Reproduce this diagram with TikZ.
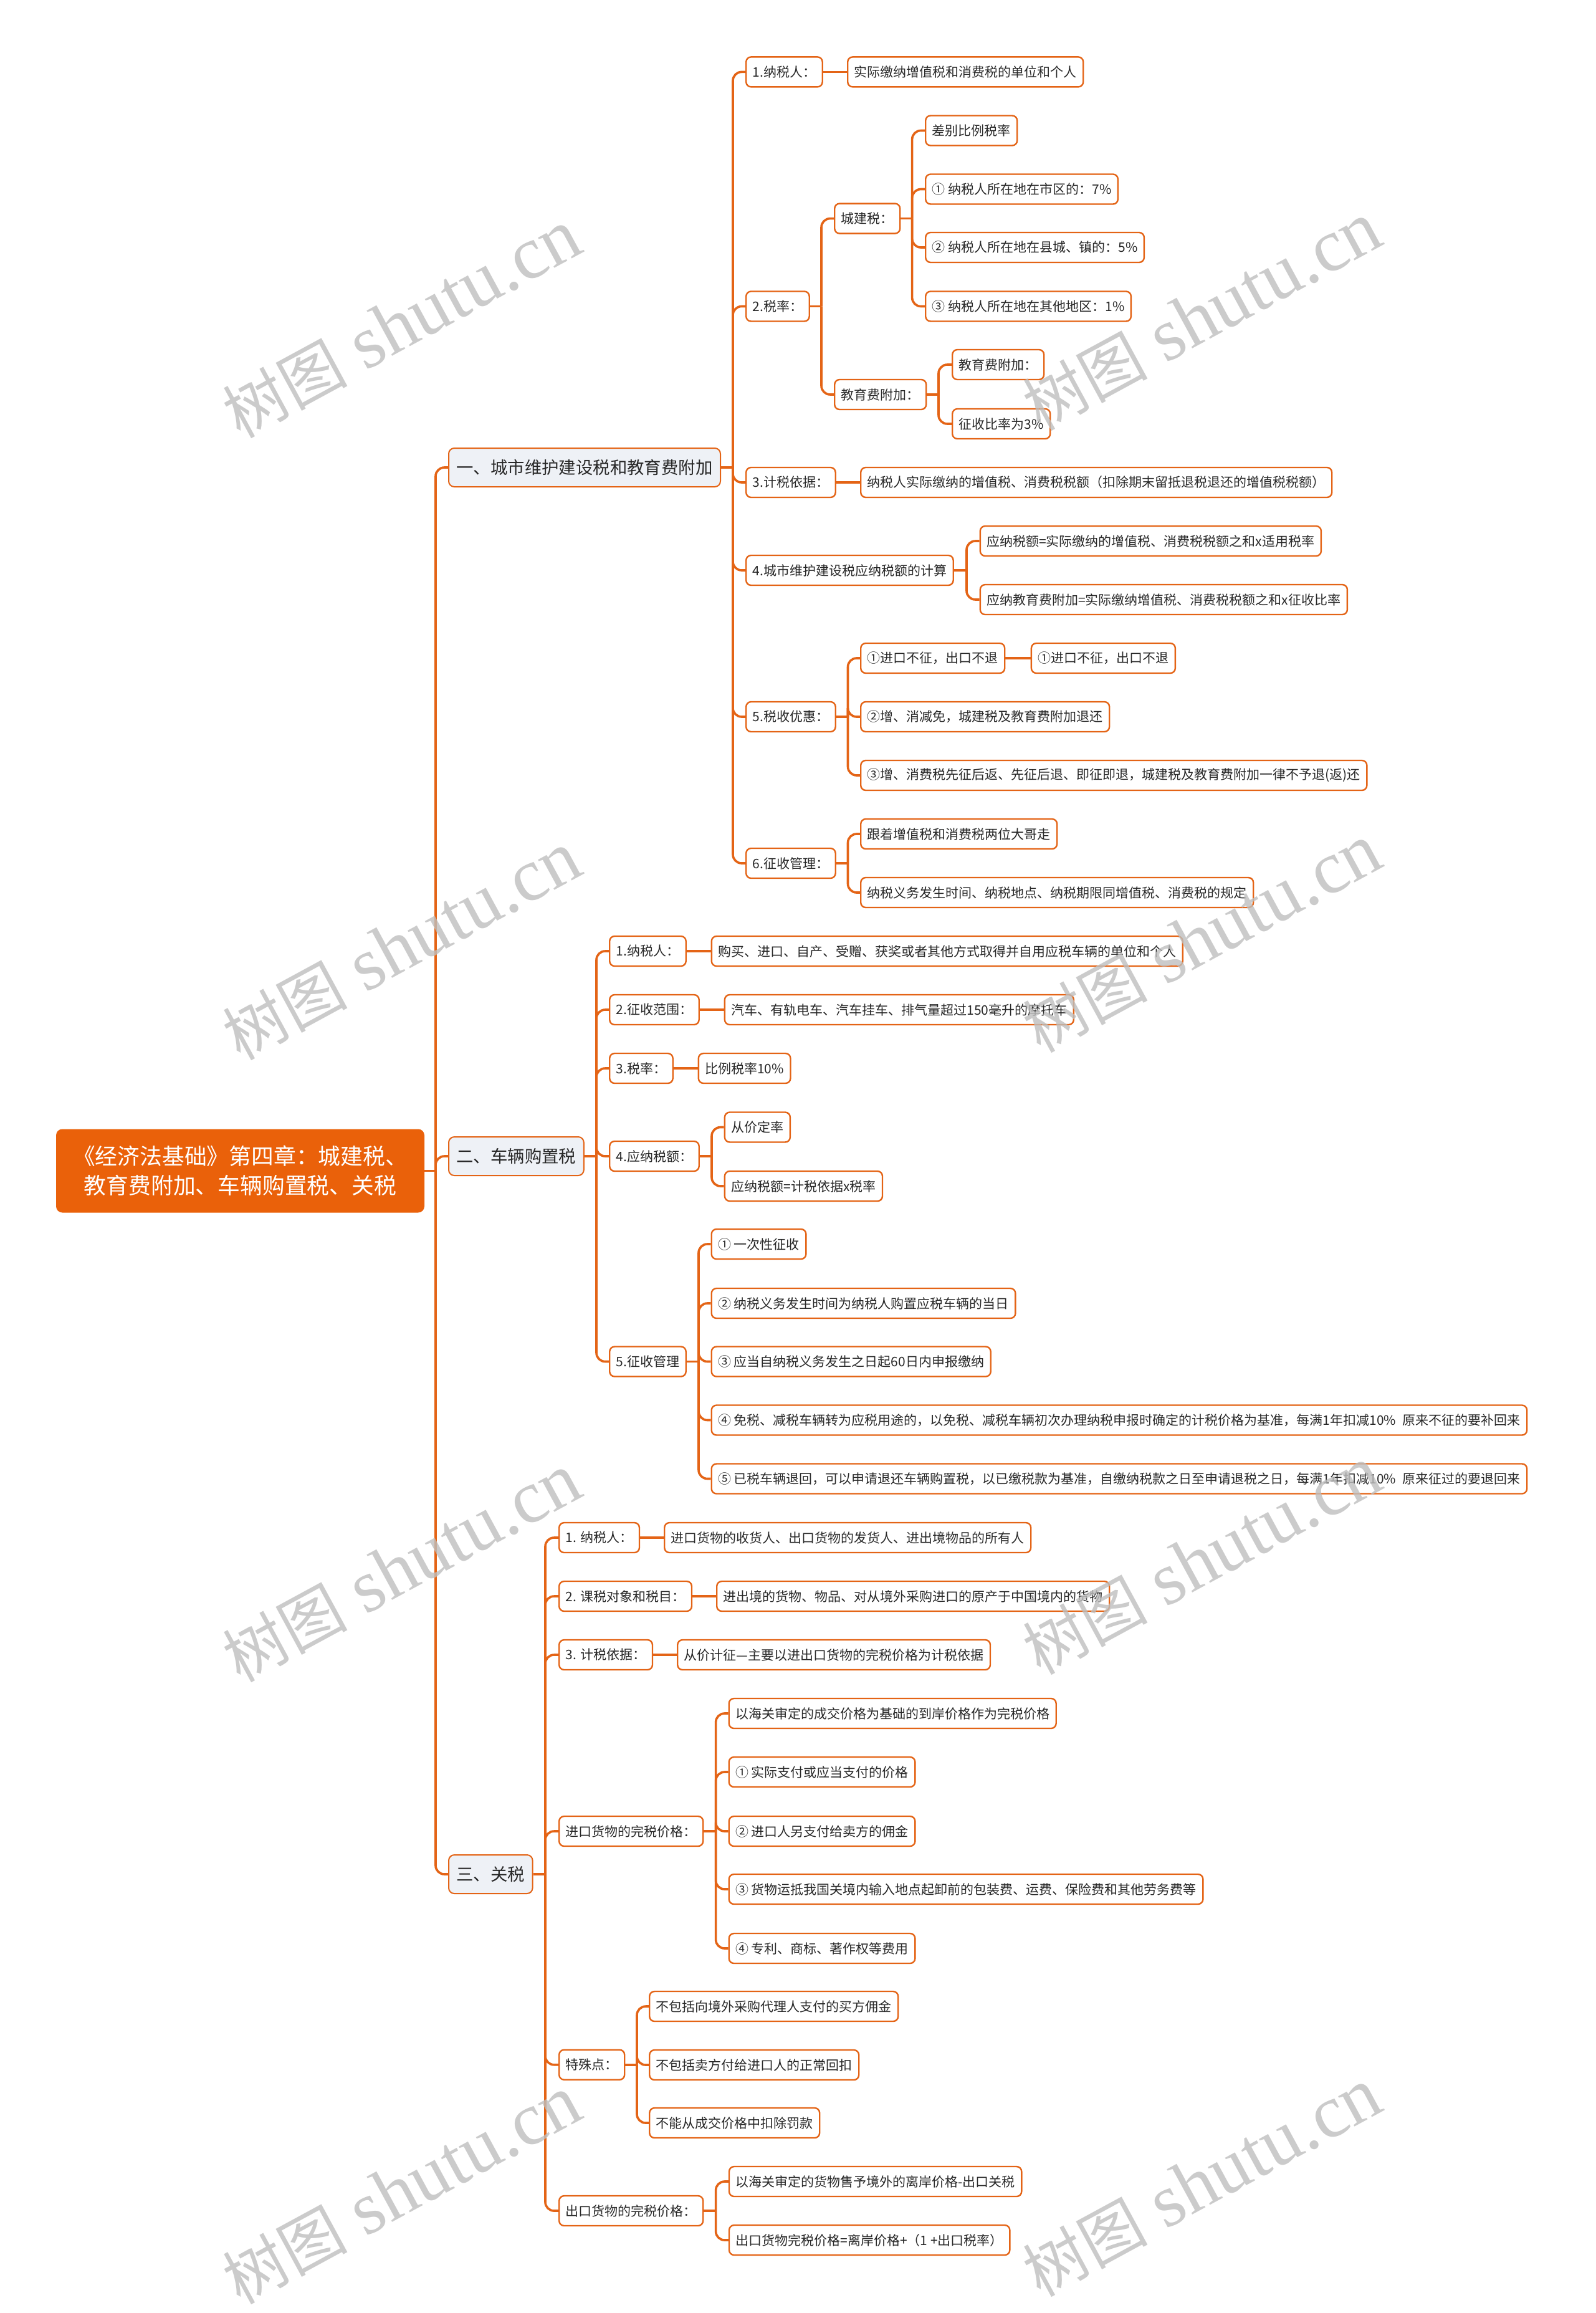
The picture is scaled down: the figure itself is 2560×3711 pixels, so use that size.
\documentclass[tikz,border=0pt]{standalone}
\usepackage{fontspec}
\usetikzlibrary{backgrounds}
\newfontfamily\cjk{Noto Sans CJK SC}
\newfontfamily\wmlat{Liberation Serif}
\definecolor{lc}{RGB}{228,100,22}
\definecolor{rootc}{RGB}{234,97,10}
\definecolor{lonefill}{RGB}{238,241,246}
\definecolor{tc}{RGB}{40,40,40}
\definecolor{wmc}{RGB}{190,190,190}
\newcommand{\mmstub}[2]{\draw[conn] (#1.east) -- (#1.east -| #2);}
\newcommand{\mmkid}[3]{\draw[conn] (#1.east -| #2) |- (#3.west);}
\newcommand{\mmone}[2]{\draw[conn] (#1.east) -- (#2.west);}
\tikzset{
  conn/.style={draw=lc, line width=1.8pt, rounded corners=7pt},
  ltwo/.style={draw=lc, line width=1.2pt, fill=white, rounded corners=4pt,
    minimum height=24pt, inner xsep=5.25pt, inner ysep=0pt, anchor=west,
    font=\cjk\fontsize{10.5}{12}\selectfont, text=tc},
  lone/.style={draw=lc, line width=1pt, fill=lonefill, rounded corners=4.5pt,
    minimum height=31pt, inner xsep=6.25pt, inner ysep=0pt, anchor=west,
    font=\cjk\fontsize{13.7}{15}\selectfont, text=tc},
  rootbox/.style={fill=rootc, text=white, rounded corners=5pt,
    minimum width=295.5pt, minimum height=67pt, align=center, inner sep=0pt,
    font=\cjk\fontsize{17.9}{23.5}\selectfont},
  wm/.style={rotate=28.5, text=wmc, text opacity=0.8, inner sep=0pt}
}
\begin{document}
\begin{tikzpicture}[x=0.5pt,y=-0.5pt]
\useasboundingbox (0,0) rectangle (2560,3711);

% spine coordinates
\coordinate (sR) at (699,0);
\coordinate (sA) at (1176,0);
\coordinate (sA2) at (1318,0);
\coordinate (sA2a) at (1463.6,0);
\coordinate (sA2b) at (1506,0);
\coordinate (sA4) at (1551,0);
\coordinate (sA5) at (1360.5,0);
\coordinate (sA6) at (1360.5,0);
\coordinate (sB) at (957,0);
\coordinate (sB4) at (1142,0);
\coordinate (sB5) at (1121,0);
\coordinate (sC) at (875,0);
\coordinate (sC4) at (1148.6,0);
\coordinate (sC5) at (1022,0);
\coordinate (sC6) at (1148.6,0);

% root
\node[rootbox] (R) at (385.5,1878.5) {《经济法基础》第四章：城建税、\\教育费附加、车辆购置税、关税};

% level 1
\node[lone] (A) at (719,750) {一、城市维护建设税和教育费附加};
\node[lone] (B) at (719,1855) {二、车辆购置税};
\node[lone] (C) at (719,3007) {三、关税};

% section A
\node[ltwo] (a1) at (1196,115.4) {1.纳税人：};
\node[ltwo] (a1c) at (1359,115.4) {实际缴纳增值税和消费税的单位和个人};
\node[ltwo] (a2) at (1196,491.5) {2.税率：};
\node[ltwo] (a2a) at (1338,350.6) {城建税：};
\node[ltwo] (a2a1) at (1484,209.5) {差别比例税率};
\node[ltwo] (a2a2) at (1484,303.5) {① 纳税人所在地在市区的：7\%};
\node[ltwo] (a2a3) at (1484,397) {② 纳税人所在地在县城、镇的：5\%};
\node[ltwo] (a2a4) at (1484,491.5) {③ 纳税人所在地在其他地区：1\%};
\node[ltwo] (a2b) at (1338,633) {教育费附加：};
\node[ltwo] (a2b1) at (1527,585) {教育费附加：};
\node[ltwo] (a2b2) at (1527,680) {征收比率为3\%};
\node[ltwo] (a3) at (1196,774) {3.计税依据：};
\node[ltwo] (a3c) at (1380,774) {纳税人实际缴纳的增值税、消费税税额（扣除期末留抵退税退还的增值税税额）};
\node[ltwo] (a4) at (1196,915) {4.城市维护建设税应纳税额的计算};
\node[ltwo] (a4a) at (1571.6,868) {应纳税额=实际缴纳的增值税、消费税税额之和x适用税率};
\node[ltwo] (a4b) at (1571.6,962) {应纳教育费附加=实际缴纳增值税、消费税税额之和x征收比率};
\node[ltwo] (a5) at (1196,1150) {5.税收优惠：};
\node[ltwo] (a5a) at (1380,1056) {①进口不征，出口不退};
\node[ltwo] (a5ac) at (1653.7,1056) {①进口不征，出口不退};
\node[ltwo] (a5b) at (1380,1150) {②增、消减免，城建税及教育费附加退还};
\node[ltwo] (a5c) at (1380,1244) {③增、消费税先征后返、先征后退、即征即退，城建税及教育费附加一律不予退(返)还};
\node[ltwo] (a6) at (1196,1385) {6.征收管理：};
\node[ltwo] (a6a) at (1380,1338) {跟着增值税和消费税两位大哥走};
\node[ltwo] (a6b) at (1380,1432) {纳税义务发生时间、纳税地点、纳税期限同增值税、消费税的规定};

% section B
\node[ltwo] (b1) at (977,1526) {1.纳税人：};
\node[ltwo] (b1c) at (1140.6,1526) {购买、进口、自产、受赠、获奖或者其他方式取得并自用应税车辆的单位和个人};
\node[ltwo] (b2) at (977,1620) {2.征收范围：};
\node[ltwo] (b2c) at (1161.7,1620) {汽车、有轨电车、汽车挂车、排气量超过150毫升的摩托车};
\node[ltwo] (b3) at (977,1714) {3.税率：};
\node[ltwo] (b3c) at (1119.6,1714) {比例税率10\%};
\node[ltwo] (b4) at (977,1855) {4.应纳税额：};
\node[ltwo] (b4a) at (1161.7,1808.5) {从价定率};
\node[ltwo] (b4b) at (1161.7,1903) {应纳税额=计税依据x税率};
\node[ltwo] (b5) at (977,2184.5) {5.征收管理};
\node[ltwo] (b5a) at (1140.5,1996) {① 一次性征收};
\node[ltwo] (b5b) at (1140.5,2091) {② 纳税义务发生时间为纳税人购置应税车辆的当日};
\node[ltwo] (b5c) at (1140.5,2184.5) {③ 应当自纳税义务发生之日起60日内申报缴纳};
\node[ltwo] (b5d) at (1140.5,2278.5) {④ 免税、减税车辆转为应税用途的，以免税、减税车辆初次办理纳税申报时确定的计税价格为基准，每满1年扣减10\%\hspace{0.5em}原来不征的要补回来};
\node[ltwo] (b5e) at (1140.5,2372.5) {⑤ 已税车辆退回，可以申请退还车辆购置税，以已缴税款为基准，自缴纳税款之日至申请退税之日，每满1年扣减10\%\hspace{0.5em}原来征过的要退回来};

% section C
\node[ltwo] (c1) at (896,2467) {1. 纳税人：};
\node[ltwo] (c1c) at (1065,2467) {进口货物的收货人、出口货物的发货人、进出境物品的所有人};
\node[ltwo] (c2) at (896,2561) {2. 课税对象和税目：};
\node[ltwo] (c2c) at (1149,2561) {进出境的货物、物品、对从境外采购进口的原产于中国境内的货物};
\node[ltwo] (c3) at (896,2655) {3. 计税依据：};
\node[ltwo] (c3c) at (1086,2655) {从价计征—主要以进出口货物的完税价格为计税依据};
\node[ltwo] (c4) at (896,2938) {进口货物的完税价格：};
\node[ltwo] (c4a) at (1168.5,2749) {以海关审定的成交价格为基础的到岸价格作为完税价格};
\node[ltwo] (c4b) at (1168.5,2843) {① 实际支付或应当支付的价格};
\node[ltwo] (c4c) at (1168.5,2938) {② 进口人另支付给卖方的佣金};
\node[ltwo] (c4d) at (1168.5,3031) {③ 货物运抵我国关境内输入地点起卸前的包装费、运费、保险费和其他劳务费等};
\node[ltwo] (c4e) at (1168.5,3126) {④ 专利、商标、著作权等费用};
\node[ltwo] (c5) at (896,3312.7) {特殊点：};
\node[ltwo] (c5a) at (1041,3219) {不包括向境外采购代理人支付的买方佣金};
\node[ltwo] (c5b) at (1041,3313) {不包括卖方付给进口人的正常回扣};
\node[ltwo] (c5c) at (1041,3406) {不能从成交价格中扣除罚款};
\node[ltwo] (c6) at (896,3547) {出口货物的完税价格：};
\node[ltwo] (c6a) at (1168.8,3500) {以海关审定的货物售予境外的离岸价格-出口关税};
\node[ltwo] (c6b) at (1168.8,3594) {出口货物完税价格=离岸价格+（1 +出口税率）};

\begin{scope}[on background layer]
\fill[white] (0,0) rectangle (2560,3711);
% root
\mmstub{R}{sR}
\mmkid{R}{sR}{A} \mmkid{R}{sR}{B} \mmkid{R}{sR}{C}
% A
\mmstub{A}{sA}
\mmkid{A}{sA}{a1} \mmkid{A}{sA}{a2} \mmkid{A}{sA}{a3}
\mmkid{A}{sA}{a4} \mmkid{A}{sA}{a5} \mmkid{A}{sA}{a6}
\mmone{a1}{a1c}
\mmstub{a2}{sA2}
\mmkid{a2}{sA2}{a2a} \mmkid{a2}{sA2}{a2b}
\mmstub{a2a}{sA2a}
\mmkid{a2a}{sA2a}{a2a1} \mmkid{a2a}{sA2a}{a2a2} \mmkid{a2a}{sA2a}{a2a3} \mmkid{a2a}{sA2a}{a2a4}
\mmstub{a2b}{sA2b}
\mmkid{a2b}{sA2b}{a2b1} \mmkid{a2b}{sA2b}{a2b2}
\mmone{a3}{a3c}
\mmstub{a4}{sA4}
\mmkid{a4}{sA4}{a4a} \mmkid{a4}{sA4}{a4b}
\mmstub{a5}{sA5}
\mmkid{a5}{sA5}{a5a} \mmkid{a5}{sA5}{a5b} \mmkid{a5}{sA5}{a5c}
\mmone{a5a}{a5ac}
\mmstub{a6}{sA6}
\mmkid{a6}{sA6}{a6a} \mmkid{a6}{sA6}{a6b}
% B
\mmstub{B}{sB}
\mmkid{B}{sB}{b1} \mmkid{B}{sB}{b2} \mmkid{B}{sB}{b3} \mmkid{B}{sB}{b4} \mmkid{B}{sB}{b5}
\mmone{b1}{b1c} \mmone{b2}{b2c} \mmone{b3}{b3c}
\mmstub{b4}{sB4}
\mmkid{b4}{sB4}{b4a} \mmkid{b4}{sB4}{b4b}
\mmstub{b5}{sB5}
\mmkid{b5}{sB5}{b5a} \mmkid{b5}{sB5}{b5b} \mmkid{b5}{sB5}{b5c} \mmkid{b5}{sB5}{b5d} \mmkid{b5}{sB5}{b5e}
% C
\mmstub{C}{sC}
\mmkid{C}{sC}{c1} \mmkid{C}{sC}{c2} \mmkid{C}{sC}{c3} \mmkid{C}{sC}{c4} \mmkid{C}{sC}{c5} \mmkid{C}{sC}{c6}
\mmone{c1}{c1c} \mmone{c2}{c2c} \mmone{c3}{c3c}
\mmstub{c4}{sC4}
\mmkid{c4}{sC4}{c4a} \mmkid{c4}{sC4}{c4b} \mmkid{c4}{sC4}{c4c} \mmkid{c4}{sC4}{c4d} \mmkid{c4}{sC4}{c4e}
\mmstub{c5}{sC5}
\mmkid{c5}{sC5}{c5a} \mmkid{c5}{sC5}{c5b} \mmkid{c5}{sC5}{c5c}
\mmstub{c6}{sC6}
\mmkid{c6}{sC6}{c6a} \mmkid{c6}{sC6}{c6b}
\end{scope}

% watermarks
\foreach \wx/\wy [count=\i] in {645/520, 1929/508, 645/1518, 1929/1506, 645/2516, 1929/2504, 645/3514, 1929/3502}{
  \node[wm] (wm\i) at (\wx,\wy) {{\cjk\fontsize{50}{50}\selectfont 树图}\hspace{14pt}{\wmlat\fontsize{60}{60}\selectfont shutu.cn}};
}
\end{tikzpicture}
\end{document}
